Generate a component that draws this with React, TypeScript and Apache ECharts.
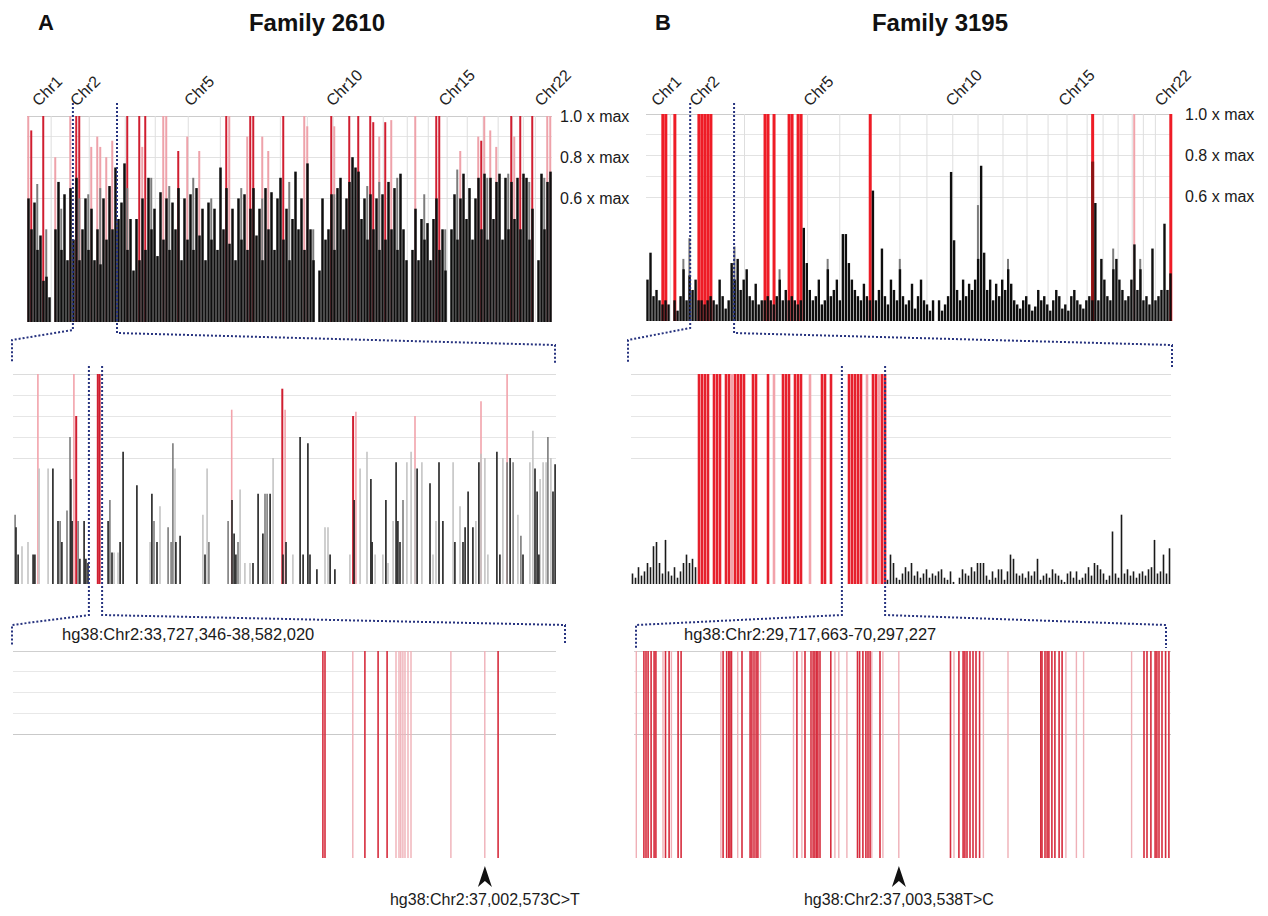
import React, { useEffect, useRef } from 'react';
import * as echarts from 'echarts';

const FONT = "'Liberation Sans', Arial, Helvetica, sans-serif";

// ---------------- DATA ----------------
const panelLetters = ['A', 'B'];
const familyTitles = ['Family 2610', 'Family 3195'];
const chrLabels = ['Chr1', 'Chr2', 'Chr5', 'Chr10', 'Chr15', 'Chr22'];
const chrLabelPos = [2.65, 15.3, 53.3, 100.6, 138.1, 170.15];
const chrBoundaries = [8.3, 21, 33, 43, 54, 64.7, 74.7, 84.7, 93.7, 102.3, 110.7, 119, 127, 134, 140.3, 147, 152.3, 157.3, 162, 165.7, 169.7];
const maxTicks = [1.0, 0.8, 0.6];

// Family 2610 genome-wide (one value per marker column)
const topABlack = [
  0.6, 0.45, 0.58, 0.35, 0.42, 0.2, 0.22, 0.12, 0, 0.45,
  0.68, 0.35, 0.62, 0.3, 0.65, 0.4, 0.7, 0.3, 0.45, 0.6,
  0.35, 0.55, 0.3, 0.45, 0.28, 0.6, 0.4, 0.66, 0.45, 0.75,
  0.5, 0.58, 0.77, 0.35, 0.5, 0.25, 0.5, 0.3, 0.6, 0.35,
  0.7, 0.45, 0.55, 0.32, 0.63, 0.4, 0.6, 0.35, 0.58, 0.45,
  0.65, 0.3, 0.6, 0.4, 0.62, 0.35, 0.65, 0.42, 0.55, 0.3,
  0.58, 0.4, 0.55, 0.35, 0.75, 0.45, 0.65, 0.38, 0.55, 0.3,
  0.6, 0.4, 0.62, 0.35, 0.55, 0.65, 0.42, 0.55, 0.3, 0.65,
  0.45, 0.63, 0.35, 0.6, 0.7, 0.4, 0.55, 0.3, 0.5, 0.73,
  0.45, 0.6, 0.35, 0.77, 0.45, 0.3, 0, 0.25, 0.6, 0.4,
  0.45, 0.62, 0.35, 0.65, 0.7, 0.45, 0.6, 0.68, 0.8, 0.75,
  0.73, 0.5, 0.6, 0.4, 0.62, 0.45, 0.6, 0.35, 0.62, 0.4,
  0.68, 0.45, 0.65, 0.35, 0.72, 0.45, 0.3, 0, 0.35, 0.55,
  0.3, 0.5, 0.4, 0.48, 0.3, 0.5, 0.6, 0.35, 0.45, 0.25,
  0, 0.45, 0.62, 0.4, 0.6, 0.72, 0.5, 0.65, 0.4, 0.6,
  0.7, 0.45, 0.72, 0.4, 0.7, 0.5, 0.68, 0.72, 0.4, 0.7,
  0.45, 0.68, 0.5, 0.7, 0.45, 0.72, 0.7, 0.4, 0.55, 0,
  0.3, 0.72, 0.45, 0.68, 0.73,
];
const topAGray = [[3, 0.67], [6, 0.45], [11, 0.55], [17, 0.6], [20, 0.62], [24, 0.65], [33, 0.65], [41, 0.7], [47, 0.66], [55, 0.7], [61, 0.6], [71, 0.65], [78, 0.6], [87, 0.68], [95, 0.45], [102, 0.62], [113, 0.66], [117, 0.68], [123, 0.7], [132, 0.62], [139, 0.45], [143, 0.74], [153, 0.7], [160, 0.72], [167, 0.68], [172, 0.7]];
const topARed = [[1, 0.93], [5, 1], [16, 1], [17, 1], [33, 1], [37, 1], [39, 1], [50, 0.83], [66, 1], [74, 1], [75, 1], [85, 1], [101, 1], [107, 1], [110, 1], [114, 1], [115, 0.97], [119, 0.97], [136, 1], [137, 1], [151, 0.88], [161, 1], [164, 1], [168, 1]];
const topAPink = [[0, 1], [9, 0.8], [14, 1], [21, 0.85], [23, 0.9], [24, 0.85], [26, 0.8], [28, 0.88], [38, 0.85], [45, 1], [46, 1], [53, 0.9], [57, 0.83], [67, 1], [73, 0.9], [78, 0.9], [80, 0.83], [92, 1], [93, 0.95], [102, 0.95], [117, 0.9], [121, 0.98], [129, 1], [144, 0.83], [150, 0.9], [152, 1], [154, 0.93], [156, 0.85], [162, 0.9], [173, 1], [174, 1]];

// Family 3195 genome-wide
const topBBlack = [
  0.2, 0.33, 0.12, 0.15, 0.1, 0.08, 0.1, 0.08, 0, 0.1,
  0.05, 0.12, 0.25, 0.1, 0.22, 0.15, 0.2, 0.1, 0.1, 0.08,
  0.1, 0.12, 0.1, 0.08, 0.2, 0.12, 0.06, 0.1, 0.28, 0.2,
  0.3, 0.15, 0.2, 0.25, 0.12, 0.1, 0.18, 0.08, 0.1, 0.1,
  0.12, 0.1, 0.08, 0.12, 0.2, 0.1, 0.15, 0.1, 0.12, 0.1,
  0.08, 0.1, 0.45, 0.28, 0.15, 0.1, 0.12, 0.2, 0.08, 0.1,
  0.25, 0.12, 0.15, 0.2, 0.1, 0.42, 0.42, 0.28, 0.2, 0.15,
  0.12, 0.1, 0.18, 0.12, 0.1, 0.63, 0.1, 0.15, 0.35, 0.12,
  0.08, 0.2, 0.15, 0.1, 0.25, 0.12, 0.08, 0.1, 0.18, 0.06,
  0.12, 0.2, 0.1, 0.08, 0.05, 0.1, 0, 0.1, 0.05, 0.08,
  0.12, 0.72, 0.39, 0.15, 0.1, 0.2, 0.12, 0.18, 0.15, 0.2,
  0.3, 0.75, 0.33, 0.15, 0.2, 0.1, 0.18, 0.12, 0.2, 0.15,
  0.25, 0.18, 0.1, 0.08, 0.06, 0.1, 0.12, 0.08, 0.05, 0.07,
  0.15, 0.1, 0.12, 0.08, 0.05, 0.1, 0.15, 0.12, 0.06, 0.08,
  0.05, 0.12, 0.15, 0.1, 0.08, 0.06, 0.1, 0.12, 0.1, 0.57,
  0.1, 0.3, 0.2, 0.12, 0.1, 0.25, 0.3, 0.2, 0.15, 0.1,
  0.12, 0.2, 0.37, 0.15, 0.25, 0.1, 0.12, 0.08, 0.35, 0.1,
  0.12, 0.15, 0.47, 0.15, 0.23,
];
const topBGray = [[12, 0.3], [14, 0.4], [29, 0.36], [44, 0.25], [60, 0.3], [84, 0.3], [110, 0.56], [120, 0.3], [155, 0.35], [164, 0.3]];
const topBDarkRed = [[148, 0.77]];
const topBRed = [5, 6, 9, 17, 18, 19, 20, 21, 39, 40, 42, 47, 48, 50, 51, 74, 148, 174];
const topBPink = [162];

// Family 2610, chromosome 2 detail (marker position, score)
const midABlack = [[1.0, 0.27], [1.7, 0.14], [6.7, 0.14], [7.3, 0.14], [13.3, 0.55], [15, 0.3], [16.3, 0.2], [19.3, 0.5], [19.7, 0.3], [22.3, 0.12], [23.7, 0.3], [24.3, 0.12], [25, 0.1], [31.7, 0.3], [33, 0.15], [35.7, 0.2], [36.7, 0.63], [41.3, 0.47], [46.3, 0.43], [48, 0.2], [54.3, 0.2], [55.7, 0.23], [64, 0.14], [73, 0.4], [73.7, 0.24], [74.3, 0.14], [80, 0.1], [81.7, 0.43], [83.3, 0.24], [85.7, 0.43], [90, 0.14], [91, 0.2], [95.7, 0.7], [96.7, 0.14], [98.3, 0.67], [99, 0.14], [101.3, 0.07], [105.7, 0.14], [107.3, 0.07], [113.7, 0.4], [119.3, 0.5], [119.7, 0.2], [124.3, 0.4], [127.7, 0.58], [128.3, 0.3], [129, 0.2], [134.7, 0.55], [139, 0.48], [142, 0.58], [143.3, 0.3], [147.3, 0.2], [150, 0.2], [150.7, 0.27], [151.7, 0.44], [153.3, 0.27], [155.3, 0.58], [161.3, 0.63], [162.3, 0.14], [165.7, 0.6], [170, 0.14], [174, 0.55], [174.7, 0.44], [175.3, 0.14], [180, 0.44], [180.7, 0.57]];
const midAGray = [[0.7, 0.33], [15.7, 0.3], [18, 0.35], [19, 0.7], [21.7, 0.3], [32.3, 0.4], [47, 0.3], [51.7, 0.27], [52.7, 0.2], [53.3, 0.67], [65.3, 0.2], [71.7, 0.3], [75, 0.2], [84, 0.43], [84.7, 0.43], [130, 0.4], [164.7, 0.58], [166.7, 0.58], [169.3, 0.23], [178.3, 0.7]];
const midALight = [[3, 0.18], [5, 0.2], [8.7, 0.55], [11.7, 0.55], [33.7, 0.15], [35, 0.15], [45.7, 0.2], [49, 0.37], [54, 0.55], [63.3, 0.33], [64.7, 0.55], [75.7, 0.45], [77.3, 0.1], [79, 0.1], [86.7, 0.6], [93.3, 0.14], [104, 0.27], [105, 0.27], [112.3, 0.14], [115.7, 0.55], [118, 0.63], [120.7, 0.14], [123.3, 0.14], [125, 0.1], [126.7, 0.3], [131.3, 0.58], [132.7, 0.63], [134, 0.55], [136.3, 0.58], [140, 0.14], [141, 0.3], [146.7, 0.58], [149, 0.37], [154.3, 0.3], [156, 0.62], [157.3, 0.6], [158.3, 0.14], [163.3, 0.6], [168.3, 0.33], [172.3, 0.58], [173.3, 0.73], [175.7, 0.5], [176.7, 0.58], [177.7, 0.58], [179.3, 0.6]];
const midARed = [[21, 0.8], [28.2, 1], [28.8, 1], [89.7, 0.93], [113.3, 0.8]];
const midAPink = [[8.3, 1], [20.3, 1], [72.9, 0.83], [90.7, 0.83], [114.3, 0.82], [134, 0.8], [156, 0.87], [164.7, 1]];

// Family 3195, chromosome 2 detail
const midBBlack = [
  0.05, 0.03, 0.08, 0.04, 0.06, 0.1, 0.08, 0.18, 0.2, 0.1,
  0.05, 0.21, 0.06, 0.04, 0.08, 0.03, 0.06, 0.1, 0.14, 0.1,
  0.12, 0.08,
  0, 0, 0, 0, 0, 0, 0, 0, 0, 0, 0, 0, 0, 0, 0, 0, 0, 0, 0, 0, 0,
  0, 0, 0, 0, 0, 0, 0, 0, 0, 0, 0, 0, 0, 0, 0, 0, 0, 0, 0, 0, 0,
  0, 0, 0, 0, 0, 0, 0, 0, 0, 0, 0, 0, 0, 0, 0, 0, 0, 0, 0, 0, 0,
  0.02, 0.14, 0.1, 0.03, 0.02, 0.05, 0.08, 0.06, 0.1, 0.04,
  0.06, 0.03, 0.05, 0.07, 0.03, 0.05, 0.04, 0.06, 0.07, 0.03,
  0.02, 0.06, 0.01, 0, 0.03, 0.07, 0.05, 0.04, 0.08, 0.06,
  0.1, 0.1, 0.1, 0.04, 0.02, 0.06, 0.03, 0.07, 0.07, 0.02,
  0.06, 0.14, 0.12, 0.05, 0.04, 0.05, 0.03, 0.06, 0.04, 0.06,
  0.12, 0.02, 0.04, 0.05, 0.03, 0.07, 0.05, 0.04, 0.02, 0.01,
  0.05, 0.06, 0.03, 0.06, 0.02, 0.03, 0.05, 0.08, 0.04, 0.1,
  0.09, 0.07, 0.05, 0.02, 0.04, 0.25, 0.05, 0.03, 0.33, 0.05,
  0.07, 0.04, 0.06, 0.03, 0.05, 0.06, 0.04, 0.07, 0.08, 0.21,
  0.05, 0.06, 0.14, 0.05, 0.17,
];
const midBRed = [22, 23, 24, 25, 27, 28, 29, 31, 32, 34, 35, 36, 37, 40, 41, 45, 50, 51, 52, 54, 55, 56, 63, 64, 66, 72, 73, 74, 75, 76, 80, 81, 83, 84];
const midBPink = [33, 47, 59, 78, 82];

// Fine-mapped regions (marker positions with maximal score)
const regionA = 'hg38:Chr2:33,727,346-38,582,020';
const regionB = 'hg38:Chr2:29,717,663-70,297,227';
const botARed = [103.3, 104, 117.3, 121.7, 124.7, 161.7];
const botAPink = [113.3, 127.7, 128.7, 129.3, 130, 130.7, 131.7, 132.7, 146, 157.3];
const botBRed = [3.3, 4, 4.7, 5.7, 6.7, 7.3, 10.5, 11.7, 14.7, 15.7, 29.7, 30.9, 31.6, 32, 32.5, 36, 38.7, 39.3, 40, 40.7, 41.3, 54.3, 57, 59, 59.7, 60.3, 60.9, 61.3, 62, 65.6, 74.5, 75.2, 76.3, 77.3, 78, 78.7, 82, 105.5, 108.3, 109.7, 110.3, 111, 112, 113, 114, 115.2, 135.6, 136, 137, 137.7, 138.3, 139.3, 140.3, 141.7, 142.7, 170, 171, 172.3, 173.7, 174.3, 175, 176, 177.2, 178.3];
const botBPink = [0.8, 9.7, 12.5, 29, 34.6, 42.2, 53.2, 56, 67, 68.3, 71, 79.3, 83, 88.3, 106.7, 116.5, 124.7, 144, 147.5, 149.9, 165.9];
const variantA = { pos: 157.3, label: 'hg38:Chr2:37,002,573C>T' };
const variantB = { pos: 88.3, label: 'hg38:Chr2:37,003,538T>C' };
// zoom windows (top columns -> middle panel, middle positions -> bottom panel)
const zoomTopA = [15.3, 30];
const zoomMidA = [25.3, 29.7];
const zoomTopB = [14.7, 29.3];
const zoomMidB = [70.3, 84.7];

// ---------------- LAYOUT / STYLE ----------------
const GRIDS = [
  { left: 27, top: 116, width: 525, height: 206 },
  { left: 646, top: 114, width: 526, height: 207 },
  { left: 13, top: 374, width: 543, height: 210 },
  { left: 631, top: 374, width: 540, height: 210 },
  { left: 13, top: 651, width: 543, height: 207 },
  { left: 634, top: 651, width: 537, height: 207 },
];
const X_MAX = [topABlack.length, topBBlack.length, 181, midBBlack.length, 181, 179];
const C = {
  black: '#0e0e0e', gray: '#7c7c7c', light: '#c4c4c4',
  redA: '#d01e30', pinkA: '#eea2aa', redB: '#ee1c26', pinkB: '#f1a4ab', darkRed: '#8c1414',
  midRed: '#e6202c', midPink: '#f2a3ab', botRed: '#d62c3d', botPink: '#efb0b7', grid: '#dedede', blue: '#27337f',
};

const colPts = (arr: number[]) => arr.map((v, i) => [i + 0.5, v]);
const colPairs = (list: number[][]) => list.map(([c, v]) => [c + 0.5, v]);
const colFull = (list: number[]) => list.map((c) => [c + 0.5, 1]);
const posFull = (list: number[]) => list.map((p) => [p, 1]);

const bar = (g: number, data: number[][], color: string, width: number) => ({
  type: 'bar', xAxisIndex: g, yAxisIndex: g, data, barWidth: width, barGap: '-100%',
  itemStyle: { color }, silent: true, animation: false,
});

const splitColors = (g: number) => {
  const t = 'rgba(0,0,0,0)';
  if (g >= 4) return [t, t, t, t, t, t, '#c9c9c9', '#e8e8e8', '#e8e8e8', '#e8e8e8', '#cfcfcf'];
  if (g <= 1) return [t, t, t, t, t, t, '#e2e2e2', '#e6e6e6', '#e2e2e2', '#e6e6e6', '#cccccc'];
  return [t, t, t, t, t, t, '#e2e2e2', '#e6e6e6', '#e6e6e6', '#e6e6e6', '#dcdcdc'];
};

function buildOption() {
  const series: any[] = [
    bar(0, chrBoundaries.map((b) => [b, 1]), C.grid, 1),
    bar(0, colPairs(topAPink), C.pinkA, 2),
    bar(0, colPairs(topARed), C.redA, 2),
    bar(0, colPairs(topAGray), C.gray, 2),
    bar(0, colPts(topABlack), C.black, 2.5),

    bar(1, chrBoundaries.map((b) => [b, 1]), C.grid, 1),
    bar(1, colFull(topBPink), C.pinkB, 2),
    bar(1, colFull(topBRed), C.redB, 3),
    bar(1, colPairs(topBDarkRed), C.darkRed, 3),
    bar(1, colPairs(topBGray), C.gray, 2),
    bar(1, colPts(topBBlack), C.black, 2.4),

    bar(2, midAPink, C.midPink, 1.6),
    bar(2, midARed, C.redA, 2),
    bar(2, midALight, C.light, 1.6),
    bar(2, midAGray, C.gray, 1.6),
    bar(2, midABlack, '#222', 1.6),

    bar(3, colFull(midBPink), C.midPink, 2.6),
    bar(3, colFull(midBRed), C.midRed, 2.6),
    bar(3, colPts(midBBlack), '#1a1a1a', 1.6),

    bar(4, posFull(botAPink), C.botPink, 1.4),
    bar(4, posFull(botARed), C.botRed, 1.6),

    bar(5, posFull(botBPink), C.botPink, 1.4),
    bar(5, posFull(botBRed), C.botRed, 1.6),
  ];
  const hiddenX = GRIDS.map((_, i) => ({ gridIndex: i, type: 'value', min: 0, max: X_MAX[i], show: false }));
  const chrAxes = [0, 1].map((g) => ({
    gridIndex: g, type: 'value', min: 0, max: X_MAX[g], position: 'top',
    axisLine: { show: false }, axisTick: { show: false }, splitLine: { show: false },
    axisLabel: {
      show: true, customValues: chrLabelPos, rotate: -45, margin: g === 0 ? 13 : 11,
      fontSize: 16, color: '#222', fontFamily: FONT, hideOverlap: false,
      formatter: (v: number) => {
        const k = chrLabelPos.findIndex((p) => Math.abs(p - v) < 1e-6);
        return k >= 0 ? chrLabels[k] : '';
      },
    },
  }));
  return {
    animation: false,
    textStyle: { fontFamily: FONT },
    grid: GRIDS.map((g) => ({ ...g, containLabel: false })),
    xAxis: [...hiddenX, ...chrAxes],
    yAxis: GRIDS.map((_, i) => ({
      gridIndex: i, type: 'value', min: 0, max: 1, interval: 0.1, position: 'right',
      axisLine: { show: false }, axisTick: { show: false },
      axisLabel: i < 2 ? {
        show: true, margin: i === 0 ? 8 : 13, fontSize: 16, color: '#1a1a1a', fontFamily: FONT,
        formatter: (v: number) => (maxTicks.some((m) => Math.abs(m - v) < 1e-6) ? `${v.toFixed(1)} x max` : ''),
      } : { show: false },
      splitLine: { show: true, lineStyle: { color: splitColors(i), width: 1 } },
    })),
    series,
  };
}

function buildGraphics(chart: any) {
  const px = (g: number, x: number, y: number) => chart.convertToPixel({ gridIndex: g }, [x, y]) as number[];
  const els: any[] = [];
  const txt = (t: string, x: number, y: number, size: number, extra: any = {}) => ({
    type: 'text', x, y, z: 100, silent: true,
    style: { text: t, fontSize: size, fontFamily: FONT, fill: '#111', ...extra },
  });
  const dotted = (points: number[][]) => ({
    type: 'polyline', z: 100, silent: true, shape: { points },
    style: { stroke: C.blue, lineWidth: 2, lineDash: [2, 2], fill: null },
  });
  // titles
  els.push(txt(panelLetters[0], 38, 11, 22, { fontWeight: 'bold' }));
  els.push(txt(familyTitles[0], 317, 10, 24, { fontWeight: 'bold', align: 'center', textAlign: 'center' }));
  els.push(txt(panelLetters[1], 655, 11, 22, { fontWeight: 'bold' }));
  els.push(txt(familyTitles[1], 940, 10, 24, { fontWeight: 'bold', align: 'center', textAlign: 'center' }));
  // brackets A
  const ta1 = px(0, zoomTopA[0], 0)[0], ta2 = px(0, zoomTopA[1], 0)[0];
  els.push(dotted([[ta1, 103], [ta1, 330], [12, 340], [12, 362]]));
  els.push(dotted([[ta2, 103], [ta2, 333], [555, 345], [555, 363]]));
  const ma1 = px(2, zoomMidA[0], 0)[0], ma2 = px(2, zoomMidA[1], 0)[0];
  els.push(dotted([[ma1, 366], [ma1, 615], [12, 625], [12, 645]]));
  els.push(dotted([[ma2, 366], [ma2, 615], [565, 625], [565, 645]]));
  // brackets B
  const tb1 = px(1, zoomTopB[0], 0)[0], tb2 = px(1, zoomTopB[1], 0)[0];
  els.push(dotted([[tb1, 103], [tb1, 328], [628, 340], [628, 363]]));
  els.push(dotted([[tb2, 103], [tb2, 333], [1172, 345], [1172, 367]]));
  const mb1 = px(3, zoomMidB[0], 0)[0], mb2 = px(3, zoomMidB[1], 0)[0];
  els.push(dotted([[mb1, 366], [mb1, 615], [636, 625], [636, 648]]));
  els.push(dotted([[mb2, 366], [mb2, 615], [1166, 625], [1166, 648]]));
  // region labels
  els.push(txt(regionA, 62, 625, 16.5, { fill: '#1a1a1a' }));
  els.push(txt(regionB, 684, 625, 16.5, { fill: '#1a1a1a' }));
  // variant arrows
  [[4, variantA], [5, variantB]].forEach(([g, v]: any) => {
    const ax = px(g, v.pos, 0)[0];
    els.push({
      type: 'polygon', z: 100, silent: true,
      shape: { points: [[ax, 866], [ax + 7, 887], [ax, 881], [ax - 7, 887]] },
      style: { fill: '#111' },
    });
    els.push(txt(v.label, ax, 891, 16, { align: 'center', textAlign: 'center', fill: '#1a1a1a' }));
  });
  return els;
}

export default function App() {
  const ref = useRef<HTMLDivElement>(null);
  useEffect(() => {
    if (!ref.current) return;
    const chart = echarts.init(ref.current, null, { renderer: 'svg' });
    chart.setOption(buildOption() as any);
    chart.setOption({ graphic: buildGraphics(chart) } as any);
    return () => chart.dispose();
  }, []);
  return <div ref={ref} style={{ position: 'absolute', left: 0, top: 0, width: 1268, height: 916, background: '#fff' }} />;
}
